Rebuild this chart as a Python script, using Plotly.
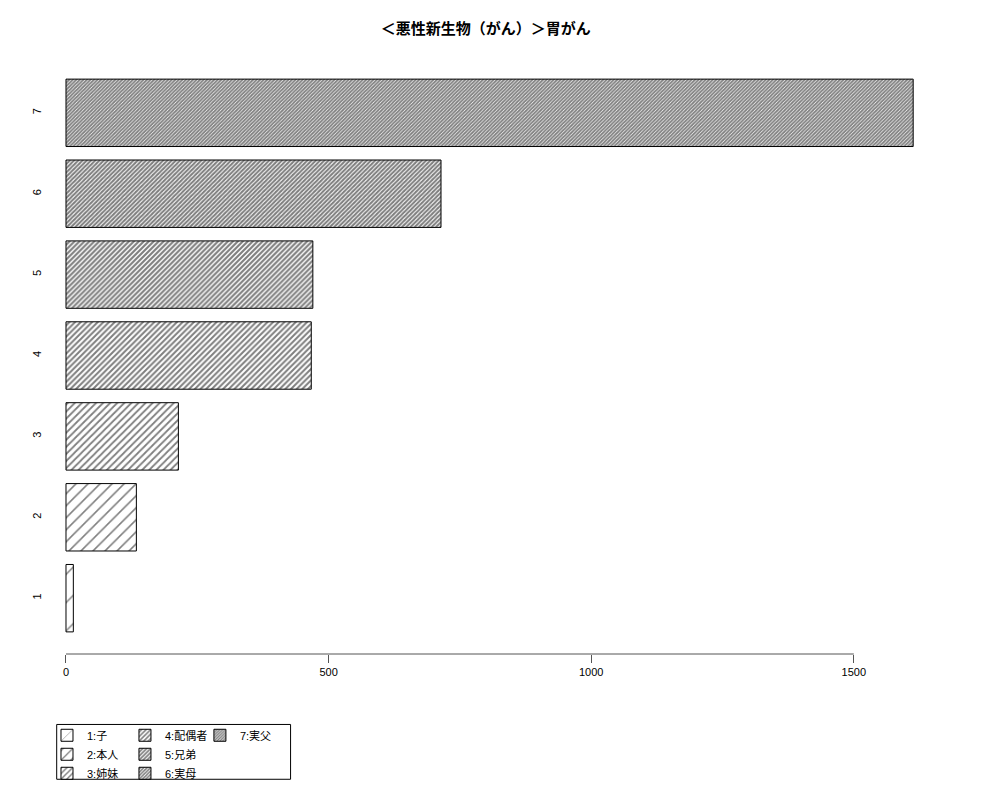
import plotly.graph_objects as go

# ---- data ----
categories = ["1", "2", "3", "4", "5", "6", "7"]
values = [14, 134, 214, 467, 470, 714, 1613]
legend_labels = ["1:子", "2:本人", "3:姉妹", "4:配偶者", "5:兄弟", "6:実母", "7:実父"]
x_ticks = [0, 500, 1000, 1500]
title_text = "＜悪性新生物（がん）＞胃がん"

# ---- style ----
hatch_sizes = [20, 8.5, 5, 4, 3.5, 3, 2.5]
hatch_solidity = [0.07, 0.18, 0.36, 0.5, 0.6, 0.66, 0.7]
legend_groups = ["legend", "legend", "legend", "legend2", "legend2", "legend2", "legend3"]
FONT = "Liberation Sans, Arial, Noto Sans CJK JP, sans-serif"

W, H = 1000, 800
ML, MR, MT, MB = 46, 52.5, 57, 144
PW = W - ML - MR
PH = H - MT - MB


def px_x(px):
    return (px - ML) / PW


def px_y(py):
    return (H - MB - py) / PH


fig = go.Figure()
for cat, val, lab, hs, so, lg in zip(categories, values, legend_labels, hatch_sizes,
                                     hatch_solidity, legend_groups):
    fig.add_trace(go.Bar(
        y=[cat], x=[val], orientation="h", name=lab, legend=lg,
        marker=dict(
            color="white",
            line=dict(color="black", width=1),
            pattern=dict(shape="/", size=hs, solidity=so,
                         fgcolor="black", bgcolor="white", fillmode="overlay"),
        ),
        hoverinfo="x+y",
    ))

leg_common = dict(orientation="v", bgcolor="rgba(0,0,0,0)", borderwidth=0,
                  font=dict(family=FONT, size=11, color="black"),
                  xanchor="left", yanchor="top", y=px_y(723), traceorder="normal")

fig.update_layout(
    width=W, height=H,
    margin=dict(l=ML, r=MR, t=MT, b=MB, pad=0),
    paper_bgcolor="white", plot_bgcolor="white",
    barmode="overlay", bargap=1 - 1 / 1.2,
    font=dict(family=FONT, size=12, color="black"),
    title=dict(text="<b>" + title_text + "</b>",
               x=px_x(486), xref="paper", xanchor="center",
               y=1 - 29 / H, yref="container", yanchor="middle",
               font=dict(family=FONT, size=15, color="black")),
    xaxis=dict(range=[-38.06, 1677.4], tickvals=x_ticks, ticktext=[str(t) for t in x_ticks],
               ticks="outside", ticklen=8, tickcolor="#555", tickwidth=1,
               showline=False, showgrid=False, zeroline=False,
               tickfont=dict(family=FONT, size=11, color="#000000")),
    yaxis=dict(type="category", categoryorder="array", categoryarray=categories,
               range=[-0.69, 6.69], ticks="", showline=False, showgrid=False, zeroline=False,
               tickangle=-90, ticklabelstandoff=2,
               tickfont=dict(family=FONT, size=11, color="#000000")),
    legend=dict(x=px_x(47), **leg_common),
    legend2=dict(x=px_x(125), **leg_common),
    legend3=dict(x=px_x(200), **leg_common),
    showlegend=True,
)

# x axis line spanning first to last tick (R style)
fig.add_shape(type="line", xref="x", yref="paper",
              x0=x_ticks[0], x1=x_ticks[-1], y0=0, y1=0,
              line=dict(color="#555", width=1))

# legend box
fig.add_shape(type="rect", xref="paper", yref="paper",
              x0=px_x(56.7), x1=px_x(290.7), y0=px_y(781.7), y1=px_y(726.7),
              line=dict(color="black", width=1), fillcolor="rgba(0,0,0,0)")

fig.write_html("out.html", config={"displayModeBar": False},
               post_script="document.body.style.margin='0px';document.body.style.overflow='hidden';")
